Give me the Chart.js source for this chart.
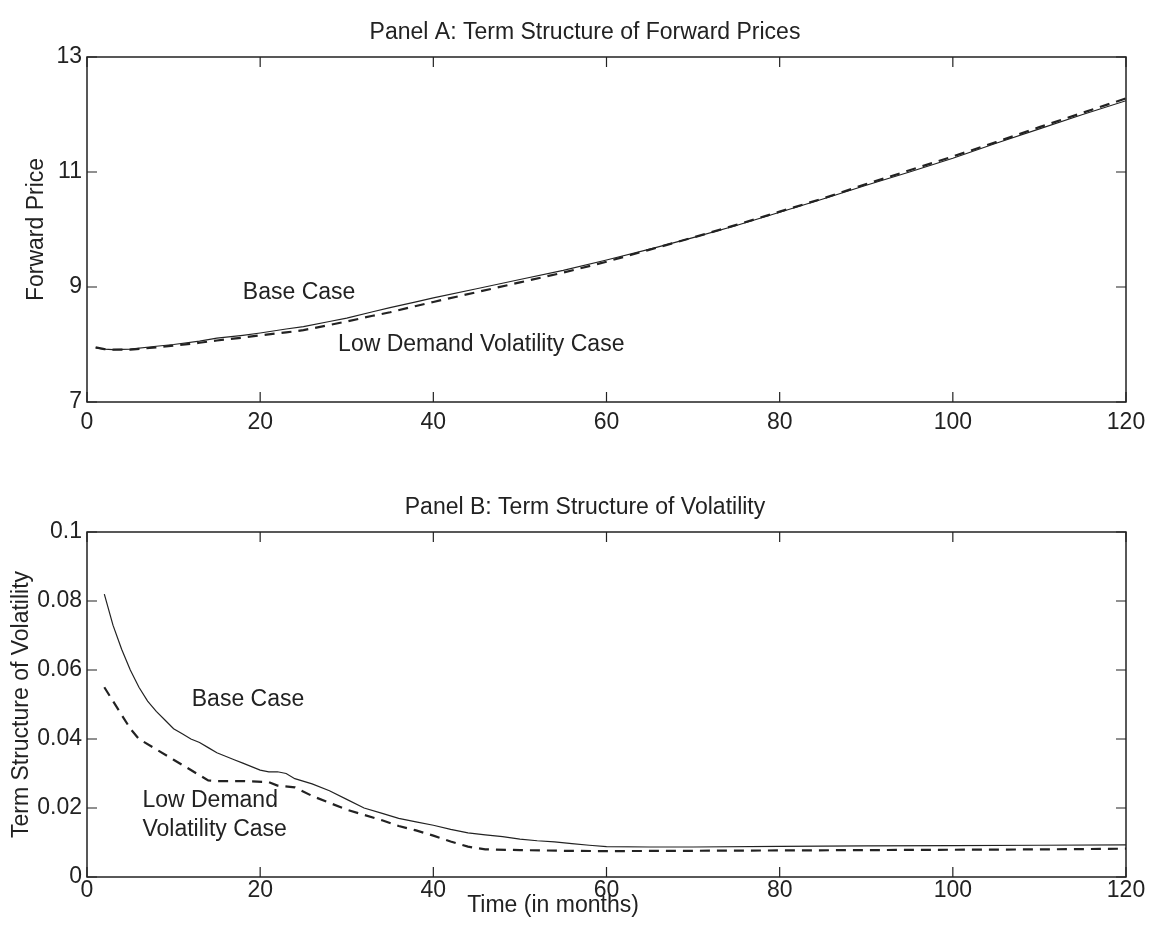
<!DOCTYPE html>
<html>
<head>
<meta charset="utf-8">
<script src="https://cdn.jsdelivr.net/npm/chart.js@4.4.0/dist/chart.umd.min.js"></script>
<style>
  body { margin: 0; background: #fff; }
  canvas { display: block; }
</style>
</head>
<body>
<canvas id="panelA" width="1149" height="460"></canvas>
<canvas id="panelB" width="1149" height="473"></canvas>
<script>
// Panel A: forward prices
const monthsA = [1, 2, 3, 5, 8, 10, 13, 15, 18, 20, 23, 25, 28, 30, 33, 35, 38, 40, 45, 50, 55, 60, 65, 70, 75, 80, 85, 90, 95, 100, 105, 110, 115, 120];
const basePrice = [7.94, 7.92, 7.91, 7.92, 7.97, 8.0, 8.06, 8.11, 8.16, 8.2, 8.27, 8.31, 8.4, 8.46, 8.57, 8.64, 8.74, 8.81, 8.97, 9.13, 9.29, 9.47, 9.66, 9.86, 10.07, 10.3, 10.53, 10.77, 11.0, 11.24, 11.5, 11.75, 12.0, 12.24];
const lowVolPrice = [7.95, 7.92, 7.91, 7.91, 7.95, 7.98, 8.03, 8.07, 8.12, 8.16, 8.21, 8.25, 8.34, 8.4, 8.5, 8.56, 8.67, 8.74, 8.91, 9.08, 9.25, 9.44, 9.65, 9.86, 10.08, 10.31, 10.54, 10.79, 11.03, 11.27, 11.52, 11.78, 12.03, 12.28];

// Panel B: volatility
const monthsBase = [2, 3, 4, 5, 6, 7, 8, 9, 10, 11, 12, 13, 14, 15, 16, 17, 18, 19, 20, 21, 22, 23, 24, 26, 28, 30, 32, 34, 36, 38, 40, 42, 44, 46, 48, 50, 52, 54, 56, 58, 60, 65, 70, 80, 90, 100, 110, 120];
const baseVol = [0.082, 0.073, 0.066, 0.060, 0.055, 0.051, 0.048, 0.0455, 0.043, 0.0415, 0.040, 0.039, 0.0375, 0.036, 0.035, 0.034, 0.033, 0.032, 0.031, 0.0305, 0.0305, 0.030, 0.0285, 0.027, 0.025, 0.0225, 0.020, 0.0185, 0.017, 0.016, 0.015, 0.0138, 0.0128, 0.0122, 0.0117, 0.011, 0.0105, 0.0102, 0.0097, 0.0092, 0.0088, 0.0087, 0.0087, 0.0089, 0.009, 0.0091, 0.0092, 0.0093];
const monthsLow = [2, 3, 4, 5, 6, 8, 10, 12, 14, 15, 18, 21, 22, 24, 26, 28, 30, 32, 34, 36, 38, 40, 42, 44, 46, 50, 55, 60, 70, 80, 90, 100, 110, 120];
const lowVol = [0.055, 0.051, 0.047, 0.043, 0.040, 0.037, 0.034, 0.031, 0.028, 0.0278, 0.0278, 0.0275, 0.0265, 0.026, 0.0235, 0.0215, 0.0195, 0.018, 0.0165, 0.0148, 0.0135, 0.012, 0.0103, 0.0088, 0.008, 0.0078, 0.0076, 0.0075, 0.0076, 0.0077, 0.0078, 0.0079, 0.008, 0.0082];

const ink = '#222';
const family = "'Liberation Sans', Arial, Helvetica, sans-serif";
const font23 = { family: family, size: 23 };

function pts(xs, ys) {
  return xs.map((x, i) => ({ x: x, y: ys[i] }));
}

// box around the plot plus inward ticks on all four sides, panel title and text notes
const framePlugin = {
  id: 'frame',
  afterDraw(chart, args, opts) {
    const { ctx, chartArea: a, scales } = chart;
    ctx.save();
    ctx.strokeStyle = ink;
    ctx.lineWidth = 1.5;
    ctx.strokeRect(a.left, a.top, a.right - a.left, a.bottom - a.top);
    ctx.lineWidth = 1.2;
    ctx.beginPath();
    scales.x.ticks.forEach(t => {
      const px = scales.x.getPixelForValue(t.value);
      ctx.moveTo(px, a.bottom); ctx.lineTo(px, a.bottom - 10);
      ctx.moveTo(px, a.top); ctx.lineTo(px, a.top + 10);
    });
    scales.y.ticks.forEach(t => {
      const py = scales.y.getPixelForValue(t.value);
      ctx.moveTo(a.left, py); ctx.lineTo(a.left + 10, py);
      ctx.moveTo(a.right, py); ctx.lineTo(a.right - 10, py);
    });
    ctx.stroke();

    ctx.fillStyle = ink;
    ctx.font = '23px ' + family;
    ctx.textBaseline = 'middle';
    ctx.textAlign = 'center';
    (opts.labels || []).forEach(l => ctx.fillText(l.text, l.cx, l.cy));
    ctx.textAlign = 'left';
    (opts.notes || []).forEach(n => {
      ctx.fillText(n.text, scales.x.getPixelForValue(n.x), scales.y.getPixelForValue(n.y));
    });
    ctx.restore();
  }
};

function makeChart(id, cfg) {
  return new Chart(document.getElementById(id), {
    type: 'line',
    data: {
      datasets: [
        { data: cfg.base, borderColor: ink, borderWidth: 1.2, pointRadius: 0, tension: 0 },
        { data: cfg.low, borderColor: ink, borderWidth: 2.2, borderDash: [10, 7], pointRadius: 0, tension: 0 }
      ]
    },
    options: {
      responsive: false,
      animation: false,
      layout: { padding: { left: 0, right: 23, top: cfg.padTop, bottom: 0 } },
      plugins: {
        legend: { display: false },
        tooltip: { enabled: false },
        frame: { labels: cfg.labels, notes: cfg.notes }
      },
      scales: {
        x: {
          type: 'linear', min: 0, max: 120,
          // invisible tick marks only push the labels down
          grid: { drawOnChartArea: false, drawTicks: true, tickLength: cfg.xTickGap, color: 'rgba(0,0,0,0)' },
          border: { display: false },
          ticks: { stepSize: 20, color: ink, font: font23, padding: 0, maxRotation: 0 },
          afterFit: s => { s.height = cfg.xHeight; }
        },
        y: {
          min: cfg.yMin, max: cfg.yMax,
          grid: { drawOnChartArea: false, drawTicks: false },
          border: { display: false },
          ticks: { stepSize: cfg.yStep, color: ink, font: font23, padding: 5, callback: v => String(+v.toFixed(4)) },
          title: { display: true, text: cfg.yTitle, color: ink, font: font23, padding: { top: cfg.yTitlePad, bottom: 0 } },
          afterFit: s => { s.width = 87; }
        }
      }
    },
    plugins: [framePlugin]
  });
}

makeChart('panelA', {
  base: pts(monthsA, basePrice),
  low: pts(monthsA, lowVolPrice),
  padTop: 57,
  xHeight: 58,
  xTickGap: 7,
  yMin: 7, yMax: 13, yStep: 2,
  yTitle: 'Forward Price',
  yTitlePad: 23,
  labels: [
    { text: 'Panel A: Term Structure of Forward Prices', cx: 585, cy: 33 }
  ],
  notes: [
    { text: 'Base Case', x: 18, y: 8.9 },
    { text: 'Low Demand Volatility Case', x: 29, y: 7.99 }
  ]
});

makeChart('panelB', {
  base: pts(monthsBase, baseVol),
  low: pts(monthsLow, lowVol),
  padTop: 72,
  xHeight: 56,
  xTickGap: 0.01,
  yMin: 0, yMax: 0.1, yStep: 0.02,
  yTitle: 'Term Structure of Volatility',
  yTitlePad: 8,
  labels: [
    { text: 'Panel B: Term Structure of Volatility', cx: 585, cy: 48 },
    { text: 'Time (in months)', cx: 553, cy: 446 }
  ],
  notes: [
    { text: 'Base Case', x: 12.1, y: 0.0513 },
    { text: 'Low Demand', x: 6.4, y: 0.022 },
    { text: 'Volatility Case', x: 6.4, y: 0.0136 }
  ]
});
</script>
</body>
</html>
